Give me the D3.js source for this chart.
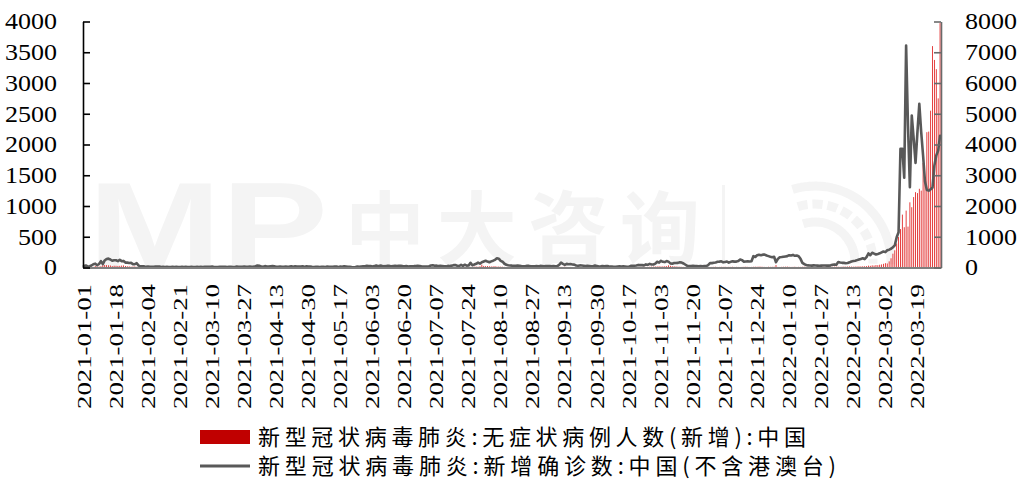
<!DOCTYPE html>
<html><head><meta charset="utf-8">
<script src="https://cdn.jsdelivr.net/npm/d3@7/dist/d3.min.js"></script>
<style>body{margin:0;background:#fff}svg{display:block}</style>
</head><body>
<svg id="chart" width="1024" height="493"></svg>
<script>
// ---- categories ----
const startDate = "2021-01-01";
const endDate = "2022-03-31";
const tickLabels = ["2021-01-01","2021-01-18","2021-02-04","2021-02-21","2021-03-10","2021-03-27","2021-04-13","2021-04-30","2021-05-17","2021-06-03","2021-06-20","2021-07-07","2021-07-24","2021-08-10","2021-08-27","2021-09-13","2021-09-30","2021-10-17","2021-11-03","2021-11-20","2021-12-07","2021-12-24","2022-01-10","2022-01-27","2022-02-13","2022-03-02","2022-03-19"];
const leftTicks = [0,500,1000,1500,2000,2500,3000,3500,4000];
const rightTicks = [0,1000,2000,3000,4000,5000,6000,7000,8000];
const seriesNames = ["新型冠状病毒肺炎:无症状病例人数(新增):中国","新型冠状病毒肺炎:新增确诊数:中国(不含港澳台)"];

// ---- 新增确诊数 (left axis), by month ----
const conf2021_01 = [24,33,17,21,32,53,63,37,57,103,55,115,138,144,130,109,118,118,103,124,103,107,80,79,74,75,54,55,70,30,18];
const conf2021_02 = [20,18,10,16,13,12,11,14,14,16,7,12,8,11,9,6,10,7,11,8,9,10,7,10,7,8,10,9];
const conf2021_03 = [9,10,8,11,9,10,10,12,11,14,8,7,8,11,10,12,11,8,13,11,8,9,14,11,12,10,15,12,11,15,13];
const conf2021_04 = [15,20,32,28,15,12,22,17,16,21,24,20,10,12,17,12,13,15,11,14,19,12,18,16,15,17,21,10,19,16];
const conf2021_05 = [14,11,9,13,12,9,10,11,8,14,12,13,11,16,16,6,17,11,21,17,13,10,7,5,8,16,11,17,19,21,27];
const conf2021_06 = [23,24,16,22,33,21,30,26,19,22,29,26,20,24,27,22,28,27,22,18,23,16,20,21,22,24,28,24,19,16];
const conf2021_07 = [17,14,22,32,35,27,30,23,26,25,19,18,26,25,30,38,40,27,24,44,27,45,31,32,76,37,48,60,80,64,85];
const conf2021_08 = [98,110,96,85,100,111,125,150,143,108,94,61,45,38,33,30,29,27,31,28,24,21,21,27,26,19,20,21,22,20,26];
const conf2021_09 = [24,20,25,23,22,19,25,21,22,43,79,59,42,59,54,56,50,47,33,28,34,32,28,24,27,24,20,21,32,26];
const conf2021_10 = [16,19,23,19,23,22,14,15,13,13,17,18,15,18,17,13,13,26,29,28,32,42,38,39,35,50,43,59,48,48,62];
const conf2021_11 = [93,79,109,93,88,104,95,67,62,73,72,75,86,80,65,45,25,23,22,27,24,22,20,25,21,25,23,40,72,71];
const conf2021_12 = [78,82,93,96,101,84,91,97,80,92,100,95,96,104,130,120,95,97,100,97,103,184,170,198,206,200,209,209,195,185,175];
const conf2022_01 = [167,175,86,140,167,170,175,180,185,200,195,205,190,195,184,141,76,55,40,34,33,30,34,32,30,27,30,32,33,31,30];
const conf2022_02 = [35,44,50,45,88,80,76,75,70,72,84,98,105,110,120,130,140,150,135,168,228,200,239,225,211,220,230,245];
const conf2022_03 = [260,250,280,290,304,330,360,493,574,1930,1930,1460,3610,2300,1306,2471,2100,1700,2200,2660,2200,1821,1400,1260,1250,1270,1300,1660,1820,1900,2140];

// ---- 无症状病例人数(新增) (right axis), by month ----
const asym2021_01 = [13,8,6,9,14,20,47,33,30,40,76,81,78,72,66,47,58,56,51,55,63,68,49,40,38,27,33,36,22,18,21];
const asym2021_02 = [17,12,10,14,12,8,7,9,8,9,6,6,4,5,5,6,8,6,5,6,7,9,8,10,9,7,8,10];
const asym2021_03 = [8,10,12,11,9,11,14,15,18,12,10,9,11,13,14,12,16,10,9,8,11,13,11,9,12,10,14,11,13,12,9];
const asym2021_04 = [12,10,9,11,14,12,17,15,13,11,10,12,14,16,18,15,13,12,14,16,11,13,10,9,12,14,10,11,8,10];
const asym2021_05 = [11,9,10,12,8,9,11,13,10,12,15,11,9,10,12,14,11,13,10,9,12,11,8,10,13,9,12,14,11,10,13];
const asym2021_06 = [12,14,10,9,13,11,10,15,12,11,13,9,14,12,10,11,13,10,12,14,11,9,12,10,13,11,9,12,14,10];
const asym2021_07 = [11,13,15,12,10,14,11,12,10,13,9,12,14,11,13,10,12,15,11,14,13,19,22,18,20,24,28,31,26,40,92];
const asym2021_08 = [51,45,48,40,35,38,44,30,32,28,25,20,18,21,19,17,15,22,18,16,14,17,19,15,18,16,13,15,14,17,12];
const asym2021_09 = [13,15,11,14,12,16,14,12,13,18,22,20,25,19,16,18,14,15,12,13,16,14,12,15,13,11,14,12,13,10];
const asym2021_10 = [12,10,11,13,9,12,14,11,13,10,12,9,11,14,12,10,13,11,15,14,16,18,19,22,25,20,21,24,28,30,33];
const asym2021_11 = [36,40,35,38,42,45,70,55,42,38,35,30,27,22,20,18,15,16,14,15,17,13,15,14,12,16,13,15,18,20];
const asym2021_12 = [22,25,18,20,23,21,24,19,22,20,25,18,21,19,17,20,23,26,22,18,20,24,27,25,30,28,23,20,18,25,22];
const asym2022_01 = [24,26,80,20,18,22,25,27,30,22,19,21,25,18,22,20,24,26,21,19,23,25,20,18,22,24,60,28,25,30,27];
const asym2022_02 = [26,24,28,30,25,22,27,31,29,33,35,30,28,32,34,38,36,40,42,45,60,55,70,65,80,75,90,100];
const asym2022_03 = [120,140,130,200,300,450,560,780,990,1250,1720,1310,1850,1330,2120,1960,2290,2450,2420,2560,2500,3400,2750,4400,4420,5100,7200,6750,6450,5500,7950];

const confirmed = [].concat(conf2021_01,conf2021_02,conf2021_03,conf2021_04,conf2021_05,conf2021_06,conf2021_07,conf2021_08,conf2021_09,conf2021_10,conf2021_11,conf2021_12,conf2022_01,conf2022_02,conf2022_03);
const asymptomatic = [].concat(asym2021_01,asym2021_02,asym2021_03,asym2021_04,asym2021_05,asym2021_06,asym2021_07,asym2021_08,asym2021_09,asym2021_10,asym2021_11,asym2021_12,asym2022_01,asym2022_02,asym2022_03);

const parse = d3.utcParse("%Y-%m-%d");
const fmt = d3.utcFormat("%Y-%m-%d");
const dates = d3.utcDay.range(parse(startDate), d3.utcDay.offset(parse(endDate), 1)).map(fmt);
const data = dates.map((d, i) => ({date: d, conf: confirmed[i], asym: asymptomatic[i]}));

// ---- layout ----
const svg = d3.select("#chart");
const L = 83, R = 941, T = 21.5, B = 267.5;
const serif = "'Liberation Serif','Times New Roman',serif";
const cjk = "'Noto Sans CJK SC','Noto Sans CJK JP',sans-serif";

const x = d3.scaleBand().domain(dates).range([L, R]).padding(0);
const bw = x.bandwidth();
const yL = d3.scaleLinear().domain([0, 4000]).range([B, T]);
const yR = d3.scaleLinear().domain([0, 8000]).range([B, T]);

// ---- watermark ----
const wm = svg.append("g").attr("fill", "#f4f4f4");
wm.append("text").attr("x", 88).attr("y", 268).attr("font-family", "'Liberation Sans',Arial,sans-serif")
  .attr("font-weight", "bold").attr("font-size", 122).attr("textLength", 240).attr("lengthAdjust", "spacingAndGlyphs").text("MP");
wm.append("text").attr("x", 345).attr("y", 258).attr("font-family", cjk).attr("font-weight", "bold")
  .attr("font-size", 80).attr("textLength", 355).text("中大咨询");
wm.append("rect").attr("x", 722).attr("y", 185).attr("width", 3).attr("height", 78);
[40, 58, 76].forEach(r => {
  wm.append("path").attr("fill", "none").attr("stroke", "#f4f4f4").attr("stroke-width", 9)
    .attr("stroke-dasharray", "10 5")
    .attr("d", d3.arc()({innerRadius: r, outerRadius: r, startAngle: -0.3, endAngle: 1.6}))
    .attr("transform", "translate(815,262)");
});

// ---- bars (right axis) ----
const barW = bw * 0.45;
svg.append("g").selectAll("rect").data(data).join("rect")
  .attr("x", d => x(d.date) + (bw - barW) / 2)
  .attr("y", d => yR(d.asym))
  .attr("width", barW)
  .attr("height", d => B - yR(d.asym))
  .attr("fill", "#e02020");

// ---- line (left axis) ----
const line = d3.line().x(d => x(d.date) + bw / 2).y(d => yL(d.conf));
svg.append("path").datum(data).attr("d", line)
  .attr("fill", "none").attr("stroke", "#595959").attr("stroke-width", 2.6)
  .attr("stroke-linejoin", "round").attr("stroke-linecap", "round");

// ---- axes ----
const gx = svg.append("g").attr("transform", `translate(0,${B})`)
  .call(d3.axisBottom(x).tickValues([]).tickSizeOuter(0));
gx.select(".domain").attr("stroke", "#7f7f7f").attr("stroke-width", 2);

tickLabels.forEach(lbl => {
  const cx = x(lbl) + bw / 2;
  svg.append("text")
    .attr("transform", `translate(${cx},284) rotate(-90)`)
    .attr("text-anchor", "end").attr("dy", "0.35em")
    .attr("font-family", serif).attr("font-size", 19)
    .attr("textLength", 125).attr("lengthAdjust", "spacingAndGlyphs")
    .attr("fill", "#000").text(lbl);
});

const gl = svg.append("g").attr("transform", `translate(${L},0)`)
  .call(d3.axisLeft(yL).tickValues(leftTicks).tickFormat(d3.format("d")).tickSizeInner(-7).tickSizeOuter(0).tickPadding(26));
gl.select(".domain").attr("stroke", "#000").attr("stroke-width", 1.6);
gl.selectAll(".tick line").attr("stroke", "#000").attr("stroke-width", 1.6);
gl.selectAll(".tick text").attr("font-family", serif).attr("font-size", 23).attr("fill", "#000")
  .attr("textLength", d => String(d).length * 13).attr("lengthAdjust", "spacingAndGlyphs");

const gr = svg.append("g").attr("transform", `translate(${R},0)`)
  .call(d3.axisRight(yR).tickValues(rightTicks).tickFormat(d3.format("d")).tickSizeInner(-7).tickSizeOuter(0).tickPadding(24));
gr.select(".domain").attr("stroke", "#6a6a6a").attr("stroke-width", 1.6);
gr.selectAll(".tick line").attr("stroke", "#6a6a6a").attr("stroke-width", 1.6);
gr.selectAll(".tick text").attr("font-family", serif).attr("font-size", 23).attr("fill", "#000")
  .attr("textLength", d => String(d).length * 13).attr("lengthAdjust", "spacingAndGlyphs");

// ---- legend ----
const lg = svg.append("g");
lg.append("rect").attr("x", 200).attr("y", 430).attr("width", 50).attr("height", 14).attr("fill", "#c00000");
lg.append("line").attr("x1", 200).attr("x2", 250).attr("y1", 466).attr("y2", 466)
  .attr("stroke", "#595959").attr("stroke-width", 3);
lg.append("text").attr("x", 258).attr("y", 445).attr("font-family", cjk).attr("font-size", 22)
  .attr("textLength", 548).attr("fill", "#000").text(seriesNames[0]);
lg.append("text").attr("x", 258).attr("y", 474).attr("font-family", cjk).attr("font-size", 22)
  .attr("textLength", 578).attr("fill", "#000").text(seriesNames[1]);
</script>
</body></html>
